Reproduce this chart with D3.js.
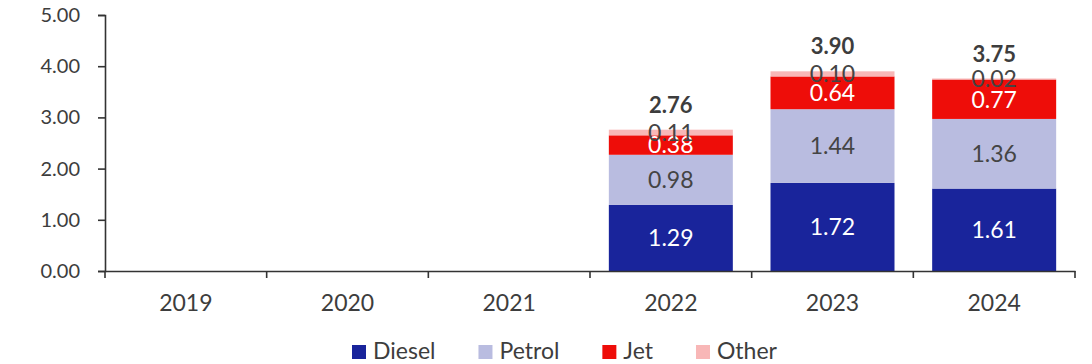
<!DOCTYPE html>
<html>
<head>
<meta charset="utf-8">
<script src="https://cdn.jsdelivr.net/npm/d3@7"></script>
<style>
  html, body { margin: 0; padding: 0; background: #fff; }
  svg { display: block; font-family: Lato, "Open Sans", sans-serif; }
</style>
</head>
<body>
<svg id="chart" width="1092" height="364"></svg>
<script>
// Fuel consumption by type, stacked per year
const years = ["2019", "2020", "2021", "2022", "2023", "2024"];
const diesel = [null, null, null, 1.29, 1.72, 1.61];
const petrol = [null, null, null, 0.98, 1.44, 1.36];
const jet    = [null, null, null, 0.38, 0.64, 0.77];
const other  = [null, null, null, 0.11, 0.10, 0.02];
const totals = [null, null, null, 2.76, 3.90, 3.75];
const yTicks = [0, 1, 2, 3, 4, 5];

const seriesNames = ["Diesel", "Petrol", "Jet", "Other"];
const seriesValues = [diesel, petrol, jet, other];
const colors = ["#19249b", "#b9bce0", "#ee0d09", "#f8b7b7"];
const labelColors = ["#ffffff", "#444444", "#ffffff", "#444444"];
const textColor = "#3d3d3d";
const axisColor = "#333333";

const svg = d3.select("#chart");
const plotLeft = 105, plotRight = 1075, plotTop = 15, plotBottom = 271;

const x = d3.scaleBand().domain(years).range([plotLeft, plotRight])
  .paddingInner(0.233).paddingOuter(0.1165);
const y = d3.scaleLinear().domain([0, 5]).range([plotBottom, plotTop]);

// rows for stacking
const rows = years.map((yr, i) => {
  const r = { year: yr };
  seriesNames.forEach((s, k) => { r[s] = seriesValues[k][i]; });
  return r;
}).filter(r => r.Diesel != null);

const stacked = d3.stack().keys(seriesNames)(rows);

// bars
const layers = svg.append("g").selectAll("g").data(stacked).join("g")
  .attr("fill", (d, k) => colors[k]);
layers.selectAll("rect").data(d => d).join("rect")
  .attr("x", d => x(d.data.year))
  .attr("width", x.bandwidth())
  .attr("y", d => y(d[1]))
  .attr("height", d => y(d[0]) - y(d[1]));

// segment labels
stacked.forEach((layer, k) => {
  svg.append("g").selectAll("text").data(layer).join("text")
    .attr("x", d => x(d.data.year) + x.bandwidth() / 2)
    .attr("y", d => (y(d[0]) + y(d[1])) / 2)
    .attr("dy", "0.36em")
    .attr("text-anchor", "middle")
    .attr("fill", labelColors[k])
    .style("font-size", "23px")
    .text(d => d3.format(".2f")(d[1] - d[0]));
});

// totals
svg.append("g").selectAll("text")
  .data(years.map((yr, i) => ({ year: yr, v: totals[i] })).filter(d => d.v != null))
  .join("text")
  .attr("x", d => x(d.year) + x.bandwidth() / 2)
  .attr("y", d => y(d.v) - 25)
  .attr("dy", "0.36em")
  .attr("text-anchor", "middle")
  .attr("fill", textColor)
  .style("font-size", "22px")
  .style("font-weight", "bold")
  .text(d => d3.format(".2f")(d.v));

// y axis
const yAxis = svg.append("g")
  .attr("transform", `translate(${plotLeft},0)`)
  .call(d3.axisLeft(y).tickValues(yTicks).tickFormat(d3.format(".2f"))
    .tickSize(7).tickPadding(18));
yAxis.selectAll("path, line").attr("stroke", axisColor).attr("stroke-width", 1.6);
yAxis.selectAll("text").attr("fill", textColor).style("font-size", "20px")
  .style("font-family", "Lato, sans-serif");

// x axis: labels centred in bands, ticks at band boundaries
const xAxis = svg.append("g")
  .attr("transform", `translate(0,${plotBottom})`)
  .call(d3.axisBottom(x).tickSize(0).tickPadding(24).tickSizeOuter(0));
xAxis.select("path").attr("stroke", axisColor).attr("stroke-width", 1.6);
xAxis.selectAll("text").attr("fill", textColor).style("font-size", "23px")
  .style("font-family", "Lato, sans-serif");
const half = (x.step() - x.bandwidth()) / 2;
const bounds = years.map(d => x(d) - half).concat([x(years[years.length - 1]) + x.bandwidth() + half]);
xAxis.append("g").selectAll("line").data(bounds).join("line")
  .attr("x1", d => d).attr("x2", d => d)
  .attr("y1", 0).attr("y2", 7)
  .attr("stroke", axisColor).attr("stroke-width", 1.6);

// legend
const legend = svg.append("g").attr("transform", "translate(352,351)");
let lx = 0;
seriesNames.forEach((name, k) => {
  const g = legend.append("g").attr("transform", `translate(${lx},0)`);
  g.append("rect").attr("x", 0).attr("y", -6).attr("width", 14).attr("height", 14)
    .attr("fill", colors[k]);
  const t = g.append("text").attr("x", 21).attr("y", 0).attr("dy", "0.36em")
    .attr("fill", textColor).style("font-size", "23px").text(name);
  lx += 21 + t.node().getComputedTextLength() + 43;
});
</script>
</body>
</html>
